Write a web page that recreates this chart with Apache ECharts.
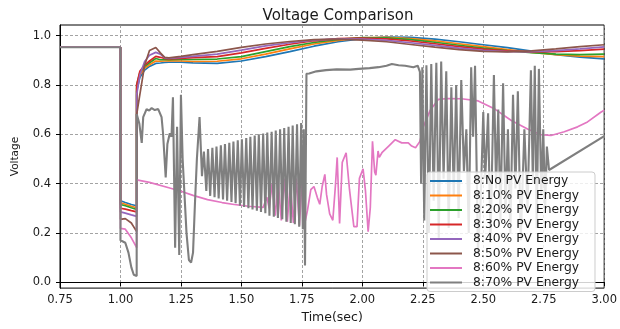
<!DOCTYPE html>
<html><head><meta charset="utf-8">
<script src="https://cdn.jsdelivr.net/npm/echarts@6/dist/echarts.min.js"></script>
<style>html,body{margin:0;padding:0;background:#fff}#c{width:620px;height:329px}</style>
</head><body><div id="c"></div>
<script>
const SERIES_NAMES = ['8:No PV Energy','8:10% PV Energy','8:20% PV Energy','8:30% PV Energy','8:40% PV Energy','8:50% PV Energy','8:60% PV Energy','8:70% PV Energy'];
const COLORS = ['#1f77b4','#ff7f0e','#2ca02c','#d62728','#9467bd','#8c564b','#e377c2','#7f7f7f'];
const Y_TICKS = [0, 0.2, 0.4, 0.6, 0.8, 1.0];

const TIME_SMOOTH = [0.75,1.0,1.0,1.02,1.045,1.067,1.067,1.08,1.1,1.12,1.146,1.165,1.183,1.2,1.25,1.3,1.4,1.5,1.6,1.7,1.8,1.9,2.0,2.1,2.2,2.3,2.4,2.5,2.6,2.7,2.8,2.9,3.0];
const NO_PV = [0.953,0.953,0.33,0.323,0.315,0.31,0.775,0.83,0.86,0.875,0.887,0.889,0.891,0.892,0.892,0.889,0.887,0.897,0.915,0.935,0.957,0.975,0.988,0.994,0.993,0.986,0.975,0.963,0.951,0.937,0.923,0.913,0.906];
const PV10 = [0.953,0.953,0.322,0.316,0.308,0.302,0.785,0.84,0.868,0.882,0.897,0.896,0.897,0.898,0.897,0.895,0.896,0.906,0.925,0.946,0.966,0.981,0.991,0.993,0.988,0.979,0.967,0.955,0.943,0.932,0.923,0.917,0.915];
const PV20 = [0.953,0.953,0.315,0.31,0.302,0.295,0.80,0.85,0.875,0.89,0.907,0.902,0.902,0.902,0.903,0.903,0.905,0.915,0.935,0.955,0.972,0.985,0.992,0.991,0.984,0.973,0.961,0.949,0.939,0.931,0.925,0.923,0.925];
const PV30 = [0.953,0.953,0.30,0.296,0.29,0.285,0.80,0.855,0.88,0.897,0.916,0.912,0.907,0.906,0.908,0.911,0.915,0.93,0.948,0.965,0.979,0.988,0.99,0.987,0.978,0.967,0.955,0.945,0.938,0.934,0.935,0.939,0.945];
const PV40 = [0.953,0.953,0.285,0.28,0.273,0.267,0.76,0.84,0.895,0.92,0.932,0.925,0.91,0.908,0.912,0.916,0.925,0.941,0.958,0.971,0.982,0.987,0.986,0.981,0.971,0.96,0.949,0.94,0.935,0.935,0.939,0.946,0.954];
const PV50 = [0.953,0.953,0.255,0.258,0.24,0.205,0.68,0.76,0.88,0.94,0.952,0.93,0.912,0.91,0.916,0.923,0.936,0.952,0.966,0.976,0.984,0.986,0.982,0.975,0.964,0.953,0.943,0.936,0.934,0.938,0.946,0.955,0.963];

const PV60 = [[0.75,0.953],[1.0,0.953],[1.0,0.218],[1.02,0.215],[1.045,0.18],[1.067,0.14],[1.067,0.415],[1.12,0.405],[1.2,0.383],[1.25,0.369],[1.3,0.352],[1.36,0.335],[1.42,0.323],[1.47,0.315],[1.53,0.308],[1.59,0.303],[1.605,0.345],[1.615,0.30],[1.627,0.40],[1.64,0.27],[1.652,0.41],[1.665,0.25],[1.677,0.42],[1.69,0.245],[1.702,0.40],[1.715,0.24],[1.727,0.42],[1.74,0.23],[1.752,0.44],[1.759,0.225],[1.773,0.29],[1.787,0.375],[1.80,0.388],[1.814,0.343],[1.824,0.316],[1.834,0.388],[1.845,0.437],[1.852,0.356],[1.865,0.277],[1.878,0.251],[1.889,0.395],[1.896,0.506],[1.906,0.238],[1.917,0.486],[1.933,0.525],[1.947,0.375],[1.965,0.225],[1.978,0.225],[1.988,0.421],[2.003,0.46],[2.013,0.37],[2.024,0.205],[2.033,0.303],[2.042,0.571],[2.051,0.447],[2.056,0.434],[2.065,0.532],[2.07,0.506],[2.081,0.525],[2.109,0.552],[2.136,0.578],[2.163,0.565],[2.19,0.565],[2.204,0.552],[2.22,0.545],[2.238,0.571],[2.252,0.63],[2.28,0.696],[2.314,0.741],[2.355,0.745],[2.41,0.744],[2.479,0.735],[2.548,0.702],[2.616,0.656],[2.685,0.62],[2.739,0.598],[2.78,0.595],[2.835,0.61],[2.89,0.63],[2.931,0.65],[2.986,0.689],[3.0,0.697]];

const PV70 = [[0.75,0.953],[1.0,0.953],[1.0,0.17],[1.02,0.16],[1.033,0.12],[1.045,0.06],[1.055,0.03],[1.067,0.025],
[1.067,0.682],[1.078,0.643],[1.088,0.565],[1.094,0.669],[1.101,0.676],[1.108,0.702],[1.119,0.696],[1.129,0.706],[1.142,0.698],[1.156,0.702],[1.17,0.669],[1.176,0.604],[1.187,0.425],[1.194,0.56],[1.204,0.604],[1.211,0.59],[1.217,0.75],[1.226,0.14],[1.234,0.63],[1.243,0.11],[1.25,0.76],[1.257,0.50],[1.265,0.35],[1.273,0.20],[1.283,0.09],[1.292,0.08],[1.30,0.12],[1.308,0.32],[1.316,0.50],[1.327,0.67],[1.337,0.43],[1.345,0.53],[1.355,0.37],
[1.362,0.54],[1.371,0.35],[1.380,0.545],[1.389,0.345],[1.397,0.55],[1.406,0.34],[1.415,0.555],[1.424,0.335],[1.432,0.56],[1.441,0.33],[1.450,0.565],[1.459,0.325],[1.467,0.57],[1.476,0.32],[1.485,0.575],[1.494,0.31],[1.502,0.58],[1.511,0.305],[1.520,0.585],[1.529,0.30],[1.537,0.59],[1.546,0.295],[1.555,0.595],[1.564,0.29],[1.572,0.60],[1.581,0.285],[1.590,0.603],[1.599,0.28],[1.607,0.607],[1.616,0.27],[1.625,0.61],[1.634,0.265],[1.642,0.615],[1.651,0.26],[1.660,0.62],[1.669,0.255],[1.677,0.625],[1.686,0.245],[1.695,0.63],[1.704,0.24],[1.712,0.635],[1.721,0.235],[1.730,0.64],[1.739,0.225],[1.747,0.645],[1.754,0.215],
[1.758,0.62],[1.763,0.068],[1.769,0.845],[1.78,0.846],[1.81,0.855],[1.85,0.86],[1.894,0.863],[1.95,0.862],[1.985,0.865],[2.03,0.868],[2.067,0.872],[2.1,0.878],[2.122,0.885],[2.15,0.88],[2.177,0.878],[2.211,0.872],[2.229,0.878],[2.238,0.853],
[2.243,0.40],[2.248,0.872],[2.256,0.25],[2.265,0.88],[2.275,0.20],[2.285,0.885],[2.295,0.33],[2.306,0.89],[2.316,0.18],[2.326,0.895],[2.336,0.42],[2.347,0.855],[2.357,0.22],[2.368,0.79],[2.378,0.35],[2.388,0.80],[2.398,0.26],[2.409,0.82],[2.42,0.45],[2.43,0.62],[2.44,0.20],[2.45,0.872],[2.458,0.59],[2.466,0.878],[2.478,0.12],[2.49,0.35],[2.50,0.69],[2.508,0.42],[2.52,0.685],[2.53,0.16],[2.544,0.84],[2.553,0.38],[2.562,0.70],[2.571,0.25],[2.582,0.807],[2.592,0.28],[2.602,0.62],[2.612,0.20],[2.623,0.76],[2.633,0.38],[2.643,0.774],[2.655,0.17],[2.67,0.62],[2.683,0.30],[2.697,0.859],[2.705,0.40],[2.713,0.878],[2.721,0.22],[2.73,0.865],[2.74,0.35],[2.748,0.62],[2.756,0.30],[2.763,0.55],[2.772,0.455],[3.0,0.592]];

const SMOOTH_VALUES = [NO_PV, PV10, PV20, PV30, PV40, PV50];

const FONT = 'DejaVu Sans';
const TXT = '#1a1a1a';

const series = [];
SMOOTH_VALUES.forEach((vals, i) => {
  series.push({
    name: SERIES_NAMES[i], type: 'line', symbol: 'none', showSymbol: false,
    data: TIME_SMOOTH.map((t, k) => [t, vals[k]]),
    lineStyle: { color: COLORS[i], width: 1.7 }, itemStyle: { color: COLORS[i] },
    animation: false, silent: true
  });
});
series.push({
  name: SERIES_NAMES[6], type: 'line', symbol: 'none', showSymbol: false, data: PV60,
  lineStyle: { color: COLORS[6], width: 1.7 }, itemStyle: { color: COLORS[6] }, animation: false, silent: true
});
series.push({
  name: SERIES_NAMES[7], type: 'line', symbol: 'none', showSymbol: false, data: PV70,
  lineStyle: { color: COLORS[7], width: 2.1 }, itemStyle: { color: COLORS[7] }, animation: false, silent: true
});

const chart = echarts.init(document.getElementById('c'), null, { renderer: 'canvas' });
chart.setOption({
  animation: false,
  backgroundColor: '#fff',
  title: {
    text: 'Voltage Comparison', left: 333, top: 4, textAlign: 'center',
    textStyle: { fontFamily: FONT, fontSize: 15, fontWeight: 'normal', color: TXT }
  },
  grid: { left: 60, right: 13, top: 25, bottom: 32, show: true, borderColor: '#000', borderWidth: 1, backgroundColor: 'transparent' },
  legend: {
    orient: 'vertical', left: 427, top: 172,
    padding: [3, 16, 3, 3], itemWidth: 32, itemHeight: 2, itemGap: 2.5,
    icon: 'rect',
    backgroundColor: 'rgba(255,255,255,0.82)', borderColor: '#cccccc', borderWidth: 1, borderRadius: 3,
    itemStyle: { borderWidth: 0 },
    textStyle: { fontFamily: FONT, fontSize: 12.3, color: TXT, padding: [0, 0, 0, 6] },
    data: SERIES_NAMES, selectedMode: false
  },
  xAxis: {
    type: 'value', min: 0.75, max: 3.0, interval: 0.25,
    name: 'Time(sec)', nameLocation: 'middle', nameGap: 18,
    nameTextStyle: { fontFamily: FONT, fontSize: 12.5, color: TXT },
    axisLine: { show: true, lineStyle: { color: '#000', width: 1 } },
    axisTick: { show: true, inside: false, length: 4, lineStyle: { color: '#000' } },
    axisLabel: { fontFamily: FONT, fontSize: 11.5, color: TXT, margin: 6, formatter: v => v.toFixed(2) },
    splitLine: { show: true, lineStyle: { color: '#8c8c8c', type: [3, 2], width: 0.8 } }
  },
  yAxis: {
    type: 'value', min: -0.024, max: 1.043,
    name: 'Voltage', nameLocation: 'middle', nameGap: 39,
    nameTextStyle: { fontFamily: FONT, fontSize: 10.5, color: TXT },
    axisLine: { show: true, lineStyle: { color: '#000', width: 1 } },
    axisTick: { show: true, inside: false, length: 4, customValues: Y_TICKS, lineStyle: { color: '#000' } },
    axisLabel: { fontFamily: FONT, fontSize: 11.5, color: TXT, margin: 9, customValues: Y_TICKS, formatter: v => v.toFixed(1) },
    splitLine: { show: true, lineStyle: { color: '#8c8c8c', type: [3, 2], width: 0.8 } }
  },
  series: series
});
</script>
</body></html>
